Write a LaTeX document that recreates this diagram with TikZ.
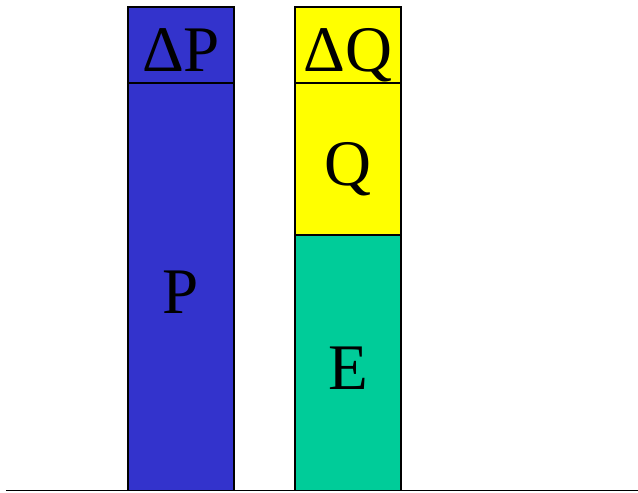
\documentclass[tikz,border=0pt]{standalone}
\usepackage{fontspec}
\setmainfont{Liberation Serif}
\usetikzlibrary{positioning}
\definecolor{barblue}{HTML}{3333CC}
\definecolor{baryellow}{HTML}{FFFF00}
\definecolor{bargreen}{HTML}{00CC99}

\begin{document}
\begin{tikzpicture}[
    seg/.style={draw, line width=0.8pt, minimum width=2.12cm, inner sep=0pt, outer sep=0pt,
                text height=1.06cm, text depth=0pt, font=\fontsize{37}{40}\selectfont},
    node distance=0pt
]
\useasboundingbox (0,0) rectangle (12.76,9.84);

% left bar
\node[seg, fill=barblue, minimum height=8.15cm, anchor=south west] (P) at (2.56,0.03) {P};
\node[seg, fill=barblue, minimum height=1.52cm, above=of P] (dP) {ΔP};

% right bar
\node[seg, fill=bargreen, minimum height=5.11cm, anchor=south west] (E) at (5.90,0.03) {E};
\node[seg, fill=baryellow, minimum height=3.04cm, above=of E] (Q) {Q};
\node[seg, fill=baryellow, minimum height=1.52cm, above=of Q] (dQ) {ΔQ};

% ground line
\coordinate (gl) at (0.12,0.03);
\coordinate (gr) at (12.76,0.03);
\draw[line width=1.1pt] (gl) -- (gr);

\end{tikzpicture}
\end{document}
